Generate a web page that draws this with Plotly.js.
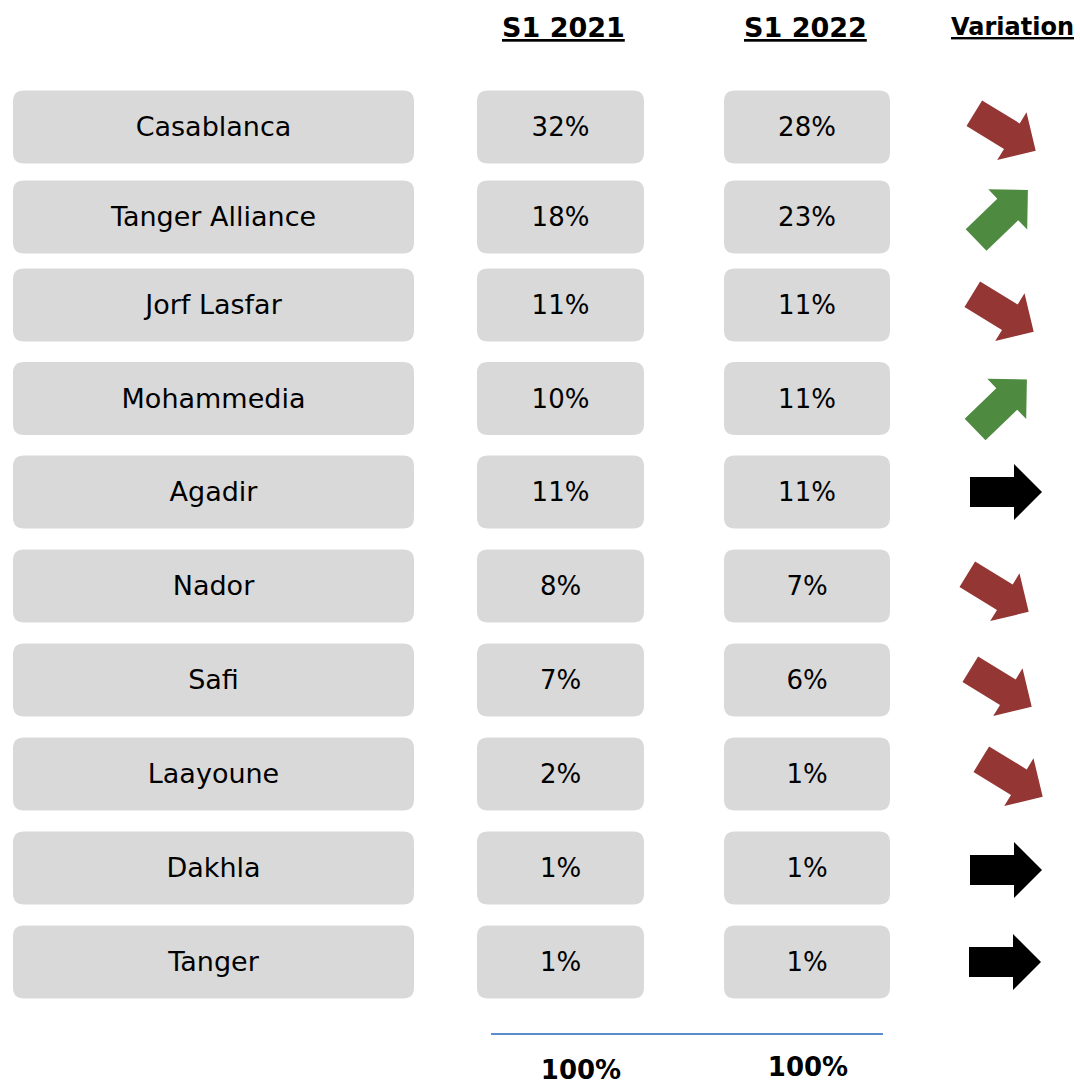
<!DOCTYPE html>
<html><head><meta charset="utf-8">
<script src="https://cdn.plot.ly/plotly-3.0.1.min.js"></script>
<style>body{margin:0;padding:0;background:#fff}#chart{width:1080px;height:1084px}</style>
</head><body><div id="chart"></div>
<script>
// ---- data ----
const ports = ["Casablanca","Tanger Alliance","Jorf Lasfar","Mohammedia","Agadir","Nador","Safi","Laayoune","Dakhla","Tanger"];
const share2021 = [32,18,11,10,11,8,7,2,1,1];
const share2022 = [28,23,11,11,11,7,6,1,1,1];
const variation = ["down","up","down","up","flat","down","down","down","flat","flat"];
const columnHeaders = ["S1 2021","S1 2022","Variation"];
const totals = [100,100];

// ---- layout constants ----
const rowY = [127,217,305,398.5,492,586,680,774,868,962];
const textDy = 2.5;
const arrowX = [1005,1002,1003,1001,1006,998,1001,1012,1006,1005];
const arrowYOff = [5,-2,8,6,0,7,8,4,2,0];
const boxH = 73, radius = 11;
const cols = [{x0:13,x1:414},{x0:477,x1:644},{x0:724,x1:890}];
const boxFill = "#D9D9D9";
const arrowColors = {down:"#943634", up:"#4F8A41", flat:"#000000"};
const FONT = "DejaVu Sans, Verdana, sans-serif";

function roundRect(x0,y0,x1,y1,r){
  return `M${x0+r},${y0} L${x1-r},${y0} Q${x1},${y0} ${x1},${y0+r} L${x1},${y1-r} Q${x1},${y1} ${x1-r},${y1} L${x0+r},${y1} Q${x0},${y1} ${x0},${y1-r} L${x0},${y0+r} Q${x0},${y0} ${x0+r},${y0} Z`;
}
function arrowPath(cx,cy,angDeg){
  const pts=[[-36,-15],[8,-15],[8,-28],[36,0],[8,28],[8,15],[-36,15]];
  const a=angDeg*Math.PI/180, c=Math.cos(a), s=Math.sin(a);
  return "M"+pts.map(p=>`${(cx+p[0]*c-p[1]*s).toFixed(1)},${(cy+p[0]*s+p[1]*c).toFixed(1)}`).join(" L")+" Z";
}

const shapes=[];
ports.forEach((p,i)=>{
  cols.forEach(c=>{
    shapes.push({type:"path",xref:"x",yref:"y",path:roundRect(c.x0,rowY[i]-boxH/2,c.x1,rowY[i]+boxH/2,radius),
      fillcolor:boxFill,line:{width:0},layer:"below"});
  });
  const v=variation[i];
  const ang = v==="down"?31.5:(v==="up"?-44:0);
  shapes.push({type:"path",xref:"x",yref:"y",path:arrowPath(arrowX[i],rowY[i]+arrowYOff[i],ang),
    fillcolor:arrowColors[v],line:{width:0}});
});
// total line
shapes.push({type:"line",xref:"x",yref:"y",x0:491,x1:883,y0:1034,y1:1034,line:{color:"#5B8BD0",width:2}});

const colCx = cols.map(c=>(c.x0+c.x1)/2);
const ty = rowY.map(y=>y+textDy);
const traces=[
  {type:"scatter",mode:"text",x:ports.map(()=>colCx[0]),y:ty,text:ports,
   textfont:{family:FONT,size:27,color:"#000"},hoverinfo:"skip",showlegend:false},
  {type:"scatter",mode:"text",x:ports.map(()=>colCx[1]),y:ty,text:share2021.map(v=>v+"%"),
   textfont:{family:FONT,size:26,color:"#000"},hoverinfo:"skip",showlegend:false},
  {type:"scatter",mode:"text",x:ports.map(()=>colCx[2]),y:ty,text:share2022.map(v=>v+"%"),
   textfont:{family:FONT,size:26,color:"#000"},hoverinfo:"skip",showlegend:false},
  {type:"scatter",mode:"text",x:[581,808],y:[1072,1069],text:totals.map(v=>"<b>"+v+"%</b>"),
   textfont:{family:FONT,size:26,color:"#000"},hoverinfo:"skip",showlegend:false}
];

const headerX=[563,805,1012];
const annotations=columnHeaders.map((h,i)=>({xref:"x",yref:"y",x:headerX[i],y:27,text:"<b><u>"+h+"</u></b>",
  showarrow:false,font:{family:FONT,size:i===2?24:27,color:"#000"},xanchor:"center",yanchor:"middle"}));

const layout={width:1080,height:1084,margin:{l:0,r:0,t:0,b:0},paper_bgcolor:"#fff",plot_bgcolor:"#fff",
  xaxis:{range:[0,1080],visible:false,fixedrange:true},
  yaxis:{range:[1084,0],visible:false,fixedrange:true},
  shapes:shapes,annotations:annotations,showlegend:false};
Plotly.newPlot("chart",traces,layout,{displayModeBar:false,staticPlot:true});
</script></body></html>
